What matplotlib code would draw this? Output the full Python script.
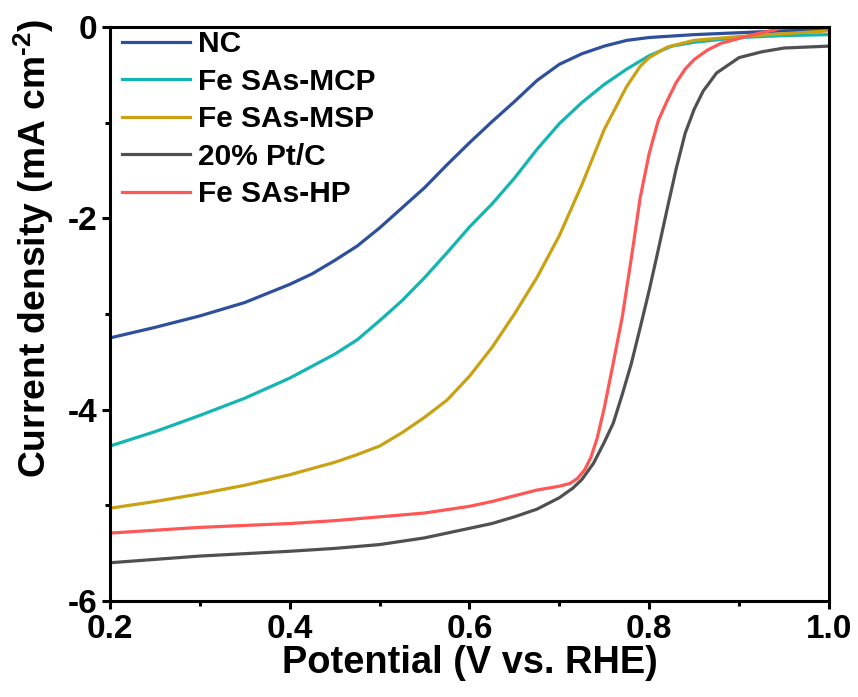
import numpy as np
import matplotlib
matplotlib.use('Agg')
import matplotlib.pyplot as plt
from matplotlib.ticker import MultipleLocator, FormatStrFormatter

plt.rcParams['font.family'] = ['Liberation Sans', 'DejaVu Sans']
plt.rcParams['font.weight'] = 'bold'
plt.rcParams['mathtext.fontset'] = 'custom'
plt.rcParams['mathtext.rm'] = 'Liberation Sans:bold'
plt.rcParams['mathtext.default'] = 'rm'
plt.rcParams['axes.unicode_minus'] = False

# LSV curves
nc_v = [0.20, 0.25, 0.30, 0.35, 0.40, 0.425, 0.45, 0.475, 0.50, 0.525, 0.55, 0.575, 0.60, 0.625, 0.65, 0.675,
        0.70, 0.725, 0.75, 0.775, 0.80, 0.85, 0.90, 0.95, 1.00]
nc_j = [-3.25, -3.14, -3.02, -2.88, -2.69, -2.58, -2.44, -2.29, -2.10, -1.89, -1.68, -1.44, -1.21, -0.99, -0.78, -0.56,
        -0.39, -0.28, -0.20, -0.14, -0.11, -0.08, -0.06, -0.04, -0.03]

mcp_v = [0.20, 0.25, 0.30, 0.35, 0.40, 0.45, 0.475, 0.50, 0.525, 0.55, 0.575, 0.60, 0.625, 0.65, 0.675, 0.70,
         0.725, 0.75, 0.775, 0.80, 0.825, 0.85, 0.90, 0.95, 1.00]
mcp_j = [-4.38, -4.23, -4.06, -3.88, -3.67, -3.42, -3.27, -3.07, -2.86, -2.62, -2.36, -2.09, -1.85, -1.58, -1.28, -1.01,
         -0.79, -0.60, -0.44, -0.30, -0.20, -0.16, -0.11, -0.09, -0.08]

msp_v = [0.20, 0.25, 0.30, 0.35, 0.40, 0.45, 0.475, 0.50, 0.525, 0.55, 0.575, 0.60, 0.625, 0.65, 0.675, 0.70,
         0.725, 0.75, 0.775, 0.79, 0.80, 0.82, 0.85, 0.90, 0.95, 1.00]
msp_j = [-5.03, -4.96, -4.88, -4.79, -4.68, -4.55, -4.47, -4.38, -4.24, -4.08, -3.90, -3.65, -3.35, -3.00, -2.62, -2.18,
         -1.65, -1.07, -0.62, -0.41, -0.32, -0.21, -0.14, -0.10, -0.07, -0.04]

pt_v = [0.20, 0.30, 0.40, 0.45, 0.50, 0.55, 0.60, 0.625, 0.65, 0.675, 0.70, 0.715, 0.725, 0.738, 0.75, 0.76,
        0.77, 0.78, 0.79, 0.80, 0.81, 0.82, 0.83, 0.84, 0.85, 0.86, 0.875, 0.90, 0.925, 0.95, 1.00]
pt_j = [-5.60, -5.53, -5.48, -5.45, -5.41, -5.34, -5.24, -5.19, -5.12, -5.04, -4.92, -4.82, -4.73, -4.56, -4.34, -4.14,
        -3.84, -3.52, -3.14, -2.75, -2.33, -1.90, -1.48, -1.11, -0.86, -0.67, -0.48, -0.32, -0.26, -0.22, -0.20]

hp_v = [0.20, 0.30, 0.40, 0.45, 0.50, 0.55, 0.60, 0.625, 0.65, 0.675, 0.70, 0.712, 0.72, 0.728, 0.735, 0.742,
        0.75, 0.76, 0.77, 0.78, 0.79, 0.80, 0.81, 0.82, 0.83, 0.84, 0.85, 0.865, 0.88, 0.90, 0.92, 0.94, 0.96]
hp_j = [-5.29, -5.23, -5.19, -5.16, -5.12, -5.08, -5.01, -4.96, -4.90, -4.84, -4.80, -4.77, -4.72, -4.63, -4.50, -4.30,
        -3.98, -3.51, -3.03, -2.42, -1.78, -1.32, -0.98, -0.77, -0.58, -0.44, -0.34, -0.24, -0.17, -0.12, -0.07, -0.03, 0.03]

labels = ['NC', 'Fe SAs-MCP', 'Fe SAs-MSP', '20% Pt/C', 'Fe SAs-HP']
colors = ['#2d4f9c', '#13b5b3', '#c9a112', '#505050', '#ff5656']

fig = plt.figure(figsize=(8.58, 6.97), dpi=100)
ax = fig.add_axes([0.1282, 0.1377, 0.838, 0.8236])

curves = [(nc_v, nc_j), (mcp_v, mcp_j), (msp_v, msp_j), (pt_v, pt_j), (hp_v, hp_j)]
for (v, j), lab, c in zip(curves, labels, colors):
  ax.plot(v, j, color=c, lw=2.3, label=lab, solid_joinstyle='round')

ax.set_xlim(0.2, 1.0)
ax.set_ylim(-6, 0)
ax.xaxis.set_major_locator(MultipleLocator(0.2))
ax.xaxis.set_minor_locator(MultipleLocator(0.1))
ax.yaxis.set_major_locator(MultipleLocator(2))
ax.yaxis.set_minor_locator(MultipleLocator(1))
ax.xaxis.set_major_formatter(FormatStrFormatter('%.1f'))
ax.yaxis.set_major_formatter(FormatStrFormatter('%d'))

for s in ax.spines.values():
  s.set_linewidth(2.2)
ax.tick_params(which='major', direction='out', length=6, width=2.2, labelsize=24, pad=3)
ax.tick_params(which='minor', direction='out', length=3.5, width=2.2)
for t in ax.get_xticklabels() + ax.get_yticklabels():
  t.set_fontweight('bold')

ax.set_xlabel('Potential (V vs. RHE)', fontsize=27.4, fontweight='bold', labelpad=0)
ax.set_ylabel(r'Current density (mA cm$^{\text{-2}}$)', fontsize=26.8, fontweight='bold')
ax.yaxis.set_label_coords(-0.075, 0.615)

leg = ax.legend(loc='upper left', bbox_to_anchor=(0.014, 0.997), frameon=False, fontsize=21.5,
                handlelength=2.3, handletextpad=0.27, labelspacing=0.32, borderaxespad=0.0, borderpad=0.05)
for t in leg.get_texts():
  t.set_fontweight('bold')

fig.savefig('out.png', dpi=100)
